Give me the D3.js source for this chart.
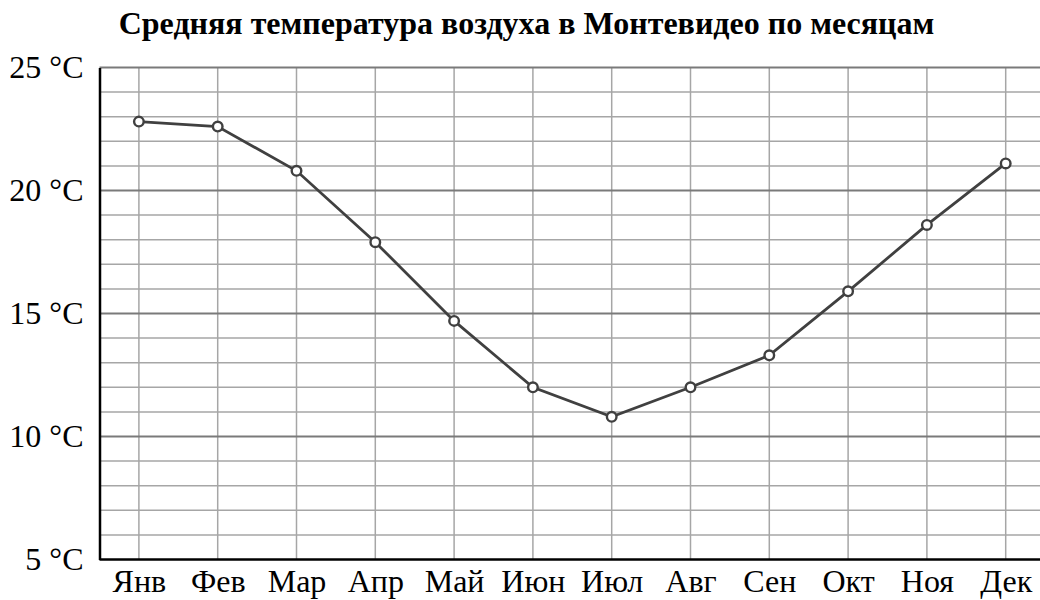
<!DOCTYPE html>
<html><head><meta charset="utf-8">
<script src="https://cdn.jsdelivr.net/npm/d3@7"></script>
<style>body{margin:0;background:#fff}svg{display:block}</style>
</head><body>
<script>
const months = ["Янв","Фев","Мар","Апр","Май","Июн","Июл","Авг","Сен","Окт","Ноя","Дек"];
const temps = [22.8, 22.6, 20.8, 17.9, 14.7, 12.0, 10.8, 12.0, 13.3, 15.9, 18.6, 21.1];
const yTicks = [5, 10, 15, 20, 25];
const title = "Средняя температура воздуха в Монтевидео по месяцам";

const W = 1040, H = 600;
const mLeft = 99.5, mTop = 67.5, mBottom = 559.5;
const step = 78.8;
const svg = d3.select("body").append("svg").attr("width", W).attr("height", H);

const x = d3.scalePoint().domain(months).range([mLeft + step/2, mLeft + step*11.5]);
const y = d3.scaleLinear().domain([5, 25]).range([mBottom, mTop]);

const font = "'Liberation Serif','Times New Roman',serif";

svg.append("text").attr("x", 526.5).attr("y", 34).attr("text-anchor", "middle")
  .attr("font-family", font).attr("font-weight", "bold").attr("font-size", 32).text(title);

// minor grid
const minor = d3.range(6, 25).filter(v => v % 5 !== 0);
svg.append("g").selectAll("line").data(minor).join("line")
  .attr("x1", mLeft).attr("x2", W).attr("y1", d => y(d)).attr("y2", d => y(d))
  .attr("stroke", "#a6a6a6").attr("stroke-width", 1.5);
svg.append("g").selectAll("line").data(months).join("line")
  .attr("x1", d => x(d)).attr("x2", d => x(d)).attr("y1", mTop).attr("y2", mBottom)
  .attr("stroke", "#a6a6a6").attr("stroke-width", 1.5);
// major grid
svg.append("g").selectAll("line").data(yTicks.filter(v => v > 5)).join("line")
  .attr("x1", mLeft).attr("x2", W).attr("y1", d => y(d)).attr("y2", d => y(d))
  .attr("stroke", "#7a7a7a").attr("stroke-width", 2);

// axes
const yAxis = d3.axisLeft(y).tickValues(yTicks).tickSize(0).tickPadding(16).tickFormat(d => d + " °C");
const gy = svg.append("g").attr("transform", `translate(${mLeft},0)`).call(yAxis);
gy.select(".domain").attr("stroke", "#000").attr("stroke-width", 2.5);
gy.selectAll("text").attr("font-family", font).attr("font-size", 32).attr("fill", "#000");

const xAxis = d3.axisBottom(x).tickSize(0).tickPadding(10);
const gx = svg.append("g").attr("transform", `translate(0,${mBottom})`).call(xAxis);
gx.select(".domain").attr("d", `M${mLeft},0H${W}`).attr("stroke", "#000").attr("stroke-width", 2.5);
gx.selectAll("text").attr("font-family", font).attr("font-size", 32).attr("fill", "#000");

const data = months.map((m, i) => ({m, v: temps[i]}));
svg.append("path").datum(data)
  .attr("d", d3.line().x(d => x(d.m)).y(d => y(d.v)))
  .attr("fill", "none").attr("stroke", "#404040").attr("stroke-width", 2.8);
svg.append("g").selectAll("circle").data(data).join("circle")
  .attr("cx", d => x(d.m)).attr("cy", d => y(d.v)).attr("r", 4.8)
  .attr("fill", "#fff").attr("stroke", "#404040").attr("stroke-width", 2.4);
</script>
</body></html>
